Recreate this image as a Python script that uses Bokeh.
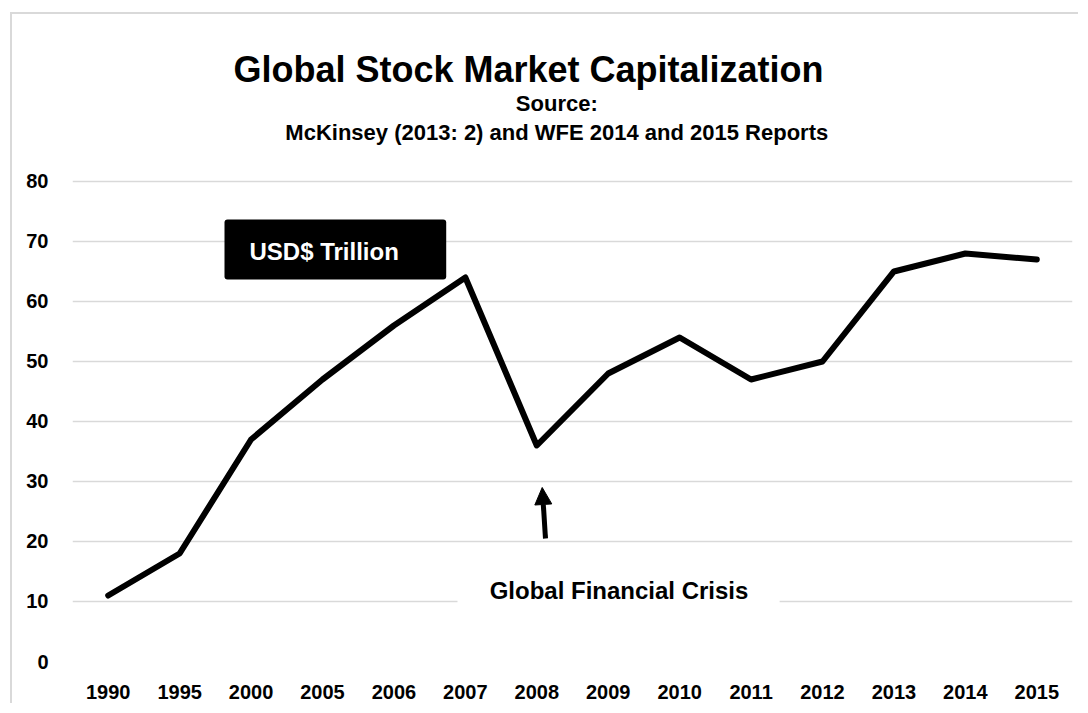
from bokeh.plotting import figure
from bokeh.models import Range1d, FactorRange, FixedTicker, Label, Arrow, NormalHead, BoxAnnotation
from bokeh.embed import file_html
from bokeh.resources import INLINE

years = ["1990", "1995", "2000", "2005", "2006", "2007", "2008",
         "2009", "2010", "2011", "2012", "2013", "2014", "2015"]
market_cap = [11, 18, 37, 47, 56, 64, 36, 48, 54, 47, 50, 65, 68, 67]
y_ticks = [0, 10, 20, 30, 40, 50, 60, 70, 80]

title_text = "Global Stock Market Capitalization"
source_line1 = "Source:"
source_line2 = "McKinsey (2013: 2) and WFE 2014 and 2015 Reports"
unit_text = "USD$ Trillion"
crisis_text = "Global Financial Crisis"

FONT = "Liberation Sans"

# frame spans the whole height above the axis so the title texts live inside it
p = figure(x_range=FactorRange(*years), y_range=Range1d(0, 107.83),
           width=1068, height=691, output_backend="svg", toolbar_location=None,
           min_border_left=60, min_border_right=8, min_border_top=0,
           min_border_bottom=44)
p.styles = {"margin-left": "12px", "margin-top": "14px",
            "box-shadow": "-2px -2px 0 0 #d9d9d9"}
p.outline_line_color = None
p.background_fill_color = "white"
p.border_fill_color = "white"

p.xgrid.grid_line_color = None
p.ygrid.grid_line_color = "#d9d9d9"
p.ygrid.grid_line_width = 1.5
p.yaxis.ticker = FixedTicker(ticks=y_ticks)

for ax in (p.xaxis[0], p.yaxis[0]):
    ax.axis_line_color = None
    ax.major_tick_line_color = None
    ax.minor_tick_line_color = None
    ax.major_label_text_font = FONT
    ax.major_label_text_font_style = "bold"
    ax.major_label_text_font_size = "20px"
    ax.major_label_text_color = "black"
p.xaxis.major_label_standoff = 17
p.yaxis.major_label_standoff = 18

p.line(x=years, y=market_cap, line_width=6, line_color="black",
       line_join="round", line_cap="round")

# white gap behind the crisis label
p.add_layout(BoxAnnotation(left=5.39, right=9.9, top=12.5, bottom=8.5,
                           fill_color="white", fill_alpha=1, line_color=None))
p.add_layout(Label(x=7.651, y=11.9, text=crisis_text, text_align="center",
                   text_baseline="alphabetic", text_font=FONT, text_font_style="bold",
                   text_font_size="24px", text_color="black"))

p.add_layout(Arrow(end=NormalHead(size=17, fill_color="black", line_color="black"),
                   x_start=6.622, y_start=20.5, x_end=6.576, y_end=29,
                   line_width=5, line_color="black"))

# black unit box
p.add_layout(BoxAnnotation(left=2.128, right=5.232, top=73.67, bottom=63.67,
                           fill_color="black", fill_alpha=1, line_color=None,
                           border_radius=3))
p.add_layout(Label(x=2.478, y=68.3, text=unit_text, text_align="left",
                   text_baseline="alphabetic", text_font=FONT, text_font_style="bold",
                   text_font_size="24px", text_color="white"))

# titles
p.add_layout(Label(x=6.384, y=(661 - 69) / 6, text=title_text, text_align="center",
                   text_baseline="alphabetic", text_font=FONT, text_font_style="bold",
                   text_font_size="36px", text_color="black"))
p.add_layout(Label(x=6.78, y=(661 - 103) / 6, text=source_line1, text_align="center",
                   text_baseline="alphabetic", text_font=FONT, text_font_style="bold",
                   text_font_size="22px", text_color="black"))
p.add_layout(Label(x=6.78, y=(661 - 132) / 6, text=source_line2, text_align="center",
                   text_baseline="alphabetic", text_font=FONT, text_font_style="bold",
                   text_font_size="22px", text_color="black"))

open("out.html", "w").write(file_html(p, INLINE))
